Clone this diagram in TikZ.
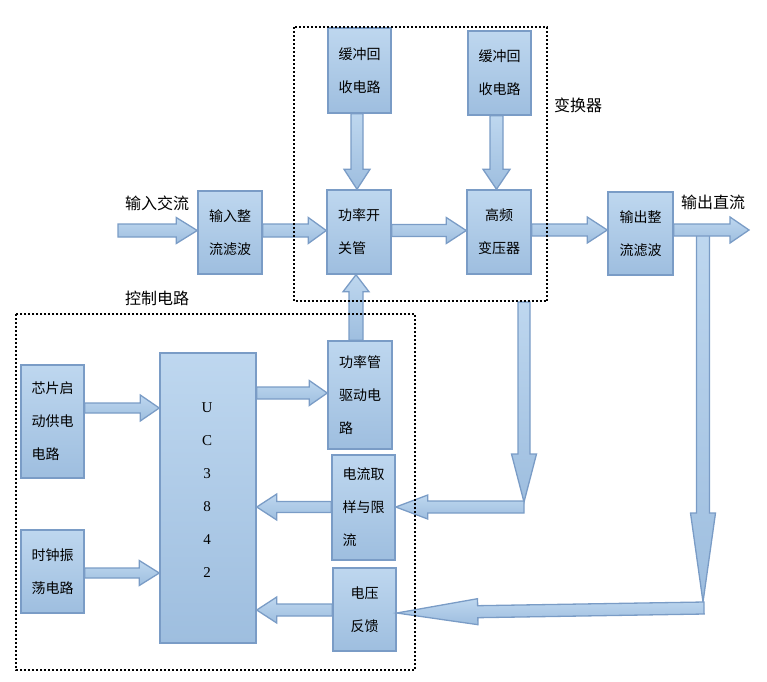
\documentclass[tikz,border=0pt]{standalone}
\usepackage{fontspec}
\setmainfont{Liberation Serif}
\newfontfamily\cjk{Noto Sans CJK SC}
\usetikzlibrary{calc}
\definecolor{boxtop}{RGB}{190,215,239}
\definecolor{boxbot}{RGB}{158,190,223}
\definecolor{boxline}{RGB}{122,156,198}
\tikzset{
  blk/.style={draw=boxline, line width=1.5pt, top color=boxtop, bottom color=boxbot,
    rectangle, inner sep=0pt, font=\cjk\fontsize{14}{33}\selectfont},
  blkl/.style={blk, align=left},
  blkc/.style={blk, align=center},
  barrowstyle/.style={draw=boxline, line width=1.3pt, top color=boxtop, bottom color=boxbot, line join=miter},
  lbl/.style={font=\cjk\fontsize{16}{20}\selectfont, inner sep=0pt},
  dotbox/.style={draw=black, line width=2pt, dash pattern=on 2pt off 2pt}
}
\newcommand\blockarrow[5]{%
  \coordinate (ba-a) at (#1);
  \coordinate (ba-b) at (#2);
  \coordinate (ba-h) at ($(ba-b)!#5!(ba-a)$);
  \path[barrowstyle] ($(ba-a)!#3!90:(ba-b)$) -- ($(ba-h)!#3!-90:(ba-a)$) -- ($(ba-h)!#4!-90:(ba-a)$)
    -- (ba-b) -- ($(ba-h)!#4!90:(ba-a)$) -- ($(ba-h)!#3!90:(ba-a)$) -- ($(ba-a)!#3!-90:(ba-b)$) -- cycle;
}
\begin{document}
\begin{tikzpicture}[x=1pt,y=-1pt]
\useasboundingbox (0,0) rectangle (767,681);

% boxes
\node[blkl, minimum width=64pt, minimum height=83pt] (inrect) at (230,232.5) {输入整\\流滤波};
\node[blkl, minimum width=64pt, minimum height=84pt] (sw) at (359,232) {功率开\\关管};
\node[blkc, minimum width=64pt, minimum height=84pt] (xf) at (499,232) {高频\\变压器};
\node[blkl, minimum width=65pt, minimum height=83pt] (outrect) at (640.5,233.5) {输出整\\流滤波};
\node[blkc, minimum width=63pt, minimum height=85pt] (buf1) at (359.5,70.5) {缓冲回\\收电路};
\node[blkc, minimum width=63pt, minimum height=84pt] (buf2) at (499.5,73) {缓冲回\\收电路};
\node[blkl, minimum width=63pt, minimum height=113pt] (start) at (52.5,421.5) {芯片启\\动供电\\电路};
\node[blkl, minimum width=63pt, minimum height=83pt] (clk) at (52.5,571.5) {时钟振\\荡电路};
\node[blk, minimum width=96pt, minimum height=290pt] (uc) at (208,498) {};
\node[font=\fontsize{15}{33}\selectfont, align=center, inner sep=0pt] (uctext) at (207,490.5) {U\\C\\3\\8\\4\\2};
\node[blkl, minimum width=64pt, minimum height=108pt] (drv) at (360,395) {功率管\\驱动电\\路};
\node[blkl, minimum width=63pt, minimum height=105pt] (cs) at (363.5,507.5) {电流取\\样与限\\流};
\node[blkl, minimum width=63pt, minimum height=83pt] (vf) at (364.5,609.5) {电压\\反馈};

% labels
\node[lbl] (lin) at (157,203) {输入交流};
\node[lbl] (lout) at (713,202) {输出直流};
\node[lbl] (lconv) at (578,105) {变换器};
\node[lbl] (lctrl) at (157,298) {控制电路};

% free ends
\coordinate (inStart) at (118,230.5);
\coordinate (outEnd) at (749,230);
\coordinate (fbOneTop) at (524,302);
\coordinate (fbOneTip) at (524,502);
\coordinate (fbOneCorner) at (524,507);
\coordinate (fbTwoTop) at (703,232);
\coordinate (fbTwoTip) at (703,602);
\coordinate (fbTwoCorner) at (704,608);

% arrows
\blockarrow{inStart}{inrect.west |- 0,230.5}{6.5pt}{13pt}{21pt}
\blockarrow{inrect.east |- 0,230.5}{sw.west |- 0,230.5}{6.5pt}{13pt}{18pt}
\blockarrow{sw.east |- 0,230.5}{xf.west |- 0,230.5}{6pt}{13pt}{20pt}
\blockarrow{xf.east |- 0,230}{outrect.west |- 0,230}{6pt}{13pt}{20pt}
\blockarrow{fbTwoTop}{fbTwoTip}{6.5pt}{12.5pt}{89pt}
\blockarrow{outrect.east |- 0,230}{outEnd}{6pt}{13pt}{19pt}
\blockarrow{buf1.south -| 357,0}{sw.north -| 357,0}{6pt}{13pt}{20pt}
\blockarrow{buf2.south -| 496.5,0}{xf.north -| 496.5,0}{6.5pt}{13.5pt}{20pt}
\blockarrow{drv.north -| 356,0}{sw.south -| 356,0}{7pt}{13pt}{17pt}
\blockarrow{start.east |- 0,408}{uc.west |- 0,408}{5pt}{13pt}{19pt}
\blockarrow{clk.east |- 0,573}{uc.west |- 0,573}{5pt}{12.5pt}{20pt}
\blockarrow{uc.east |- 0,393}{drv.west |- 0,393}{6pt}{12.5pt}{18pt}
\blockarrow{cs.west |- 0,507}{uc.east |- 0,507}{5.5pt}{13pt}{20pt}
\blockarrow{vf.west |- 0,610}{uc.east |- 0,610}{6pt}{13pt}{20pt}
\blockarrow{fbOneTop}{fbOneTip}{6pt}{12.5pt}{48pt}
\blockarrow{fbOneCorner}{cs.east |- 0,507}{6pt}{12pt}{32pt}
\blockarrow{fbTwoCorner}{vf.east |- 0,613}{6pt}{13pt}{81pt}

% dotted groups
\draw[dotbox] (293.5,27) rectangle (547,301);
\draw[dotbox] (16,314) rectangle (415,670);
\end{tikzpicture}
\end{document}
